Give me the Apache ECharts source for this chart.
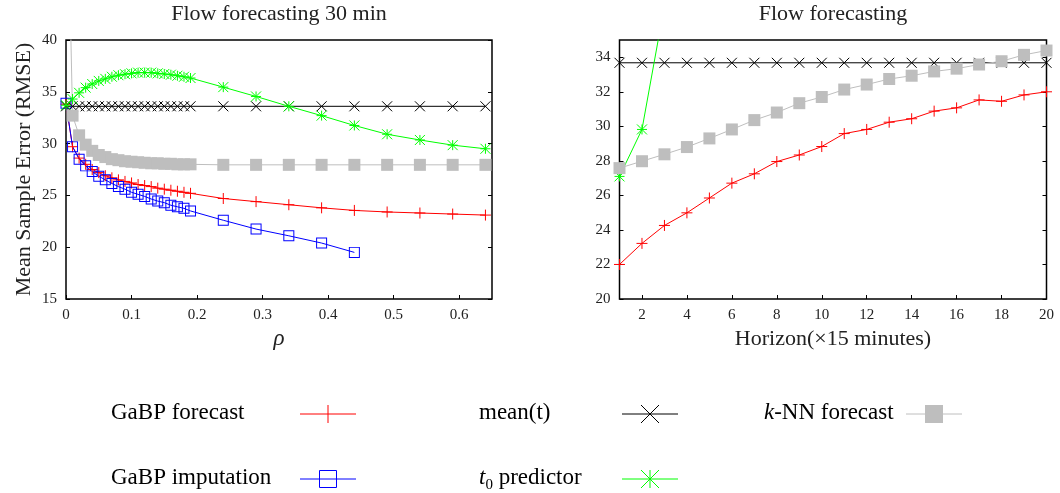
<!DOCTYPE html>
<html>
<head>
<meta charset="utf-8">
<script src="https://cdn.jsdelivr.net/npm/echarts@6.0.0/dist/echarts.min.js"></script>
<style>html,body{margin:0;padding:0;background:#fff}#c{width:1060px;height:493px}</style>
</head>
<body>
<div id="c"></div>
<script>
// ---------- data: left panel (x = rho) ----------
const rho = [0, 0.01, 0.02, 0.03, 0.04, 0.05, 0.06, 0.07, 0.08, 0.09, 0.10, 0.11, 0.12, 0.13, 0.14, 0.15, 0.16, 0.17, 0.18, 0.19,
             0.24, 0.29, 0.34, 0.39, 0.44, 0.49, 0.54, 0.59, 0.64];
const gabpForecastRho = [33.8, 29.7, 28.6, 28.0, 27.5, 27.2, 26.9, 26.7, 26.5, 26.35, 26.2, 26.05, 25.95, 25.85, 25.7, 25.6, 25.5, 25.4, 25.3, 25.2,
                         24.7, 24.4, 24.1, 23.8, 23.55, 23.4, 23.3, 23.2, 23.1];
const gabpImputationRho = [33.9, 29.7, 28.5, 27.85, 27.3, 26.85, 26.5, 26.15, 25.85, 25.6, 25.3, 25.1, 24.9, 24.65, 24.45, 24.3, 24.05, 23.9, 23.75, 23.5,
                           22.6, 21.75, 21.1, 20.4, 19.5];
const meanRho = [33.6, 33.6, 33.6, 33.6, 33.6, 33.6, 33.6, 33.6, 33.6, 33.6, 33.6, 33.6, 33.6, 33.6, 33.6, 33.6, 33.6, 33.6, 33.6, 33.6,
                 33.6, 33.6, 33.6, 33.6, 33.6, 33.6, 33.6, 33.6, 33.6];
const t0Rho = [33.7, 34.3, 34.9, 35.4, 35.75, 36.05, 36.25, 36.45, 36.6, 36.7, 36.78, 36.85, 36.85, 36.85, 36.78, 36.72, 36.65, 36.55, 36.45, 36.33,
               35.45, 34.55, 33.6, 32.7, 31.75, 30.9, 30.35, 29.85, 29.5];
const knnRho = [62, 32.7, 30.8, 29.9, 29.3, 28.9, 28.7, 28.5, 28.4, 28.3, 28.25, 28.2, 28.15, 28.1, 28.1, 28.05, 28.05, 28.0, 28.0, 28.0,
                27.95, 27.95, 27.95, 27.95, 27.95, 27.95, 27.95, 27.95, 27.95];
const rhoTicks = [0, 0.1, 0.2, 0.3, 0.4, 0.5, 0.6];
const rmseTicks = [15, 20, 25, 30, 35, 40];

// ---------- data: right panel (x = horizon) ----------
const horizon = [1, 2, 3, 4, 5, 6, 7, 8, 9, 10, 11, 12, 13, 14, 15, 16, 17, 18, 19, 20];
const gabpForecastH = [22.0, 23.22, 24.26, 24.99, 25.85, 26.71, 27.25, 27.96, 28.34, 28.83, 29.58, 29.82, 30.24, 30.44, 30.88, 31.07, 31.53, 31.45, 31.82, 32.0];
const meanH = [33.68, 33.68, 33.68, 33.68, 33.68, 33.68, 33.68, 33.68, 33.68, 33.68, 33.68, 33.68, 33.68, 33.68, 33.68, 33.68, 33.68, 33.68, 33.68, 33.68];
const t0H = [27.1, 29.82, 37.0];
const knnH = [27.58, 27.98, 28.38, 28.8, 29.3, 29.82, 30.36, 30.8, 31.34, 31.7, 32.13, 32.42, 32.74, 32.93, 33.18, 33.34, 33.58, 33.77, 34.14, 34.39];
const horizonTicks = [2, 4, 6, 8, 10, 12, 14, 16, 18, 20];
const flowTicks = [20, 22, 24, 26, 28, 30, 32, 34];

// ---------- legend ----------
const legendNames = ['GaBP forecast', 'mean(t)', 'k-NN forecast', 'GaBP imputation', 't0 predictor'];

// ---------- styles ----------
const FONT = 'Liberation Serif';
const TXT = '#222';
const C = { red: '#ff0000', blue: '#0000ff', black: '#000000', green: '#00ff00', gray: '#bebebe' };
const SYM = {
  plus: 'path://M0,5L10,5M5,0L5,10',
  cross: 'path://M0,0L10,10M10,0L0,10',
  star: 'path://M0,5L10,5M5,0L5,10M0,0L10,10M10,0L0,10',
  box: 'path://M0,0L10,0L10,10L0,10ZM0.9,0.9L0.9,9.1L9.1,9.1L9.1,0.9Z'
};

const pairs = (xs, ys) => ys.map((y, i) => [xs[i], y]);

function strokeSeries(name, color, sym, size, data, xi, yi) {
  return {
    name, type: 'line', xAxisIndex: xi, yAxisIndex: yi, data,
    symbol: sym, symbolSize: size, showSymbol: true,
    lineStyle: { color, width: 1 },
    itemStyle: { color, borderColor: color, borderWidth: 1 },
    emphasis: { disabled: true }, animation: false, clip: true, z: 3
  };
}
function fillSeries(name, color, sym, size, data, xi, yi) {
  return {
    name, type: 'line', xAxisIndex: xi, yAxisIndex: yi, data,
    symbol: sym, symbolSize: size, showSymbol: true,
    lineStyle: { color, width: 1 },
    itemStyle: { color, borderWidth: 0 },
    emphasis: { disabled: true }, animation: false, clip: true, z: 3
  };
}

const tickLabel = { fontFamily: FONT, fontSize: 15, color: TXT, margin: 9 };
const nameStyle = { fontFamily: FONT, fontSize: 22, color: TXT };

function fmt(v) { return v === 0 ? '0' : String(+v.toFixed(2)); }

// ---------- legend graphics ----------
const legendSlots = [
  { tx: 111, sx: 300, y: 413 }, { tx: 479, sx: 622, y: 413 }, { tx: 764, sx: 906, y: 413 },
  { tx: 111, sx: 300, y: 478 }, { tx: 479, sx: 622, y: 478 }
];
const legendStyle = [
  { color: C.red, mark: 'plus' }, { color: C.black, mark: 'cross' }, { color: C.gray, mark: 'fill' },
  { color: C.blue, mark: 'box' }, { color: C.green, mark: 'star' }
];
const richText = [
  '{n|GaBP forecast}', '{n|mean(t)}', '{i|k}{n|-NN forecast}', '{n|GaBP imputation}', '{i|t}{s|0}{n| predictor}'
];
function ln(x1, y1, x2, y2, color) {
  return { type: 'line', silent: true, shape: { x1, y1, x2, y2 }, style: { stroke: color, lineWidth: 1 } };
}
const graphics = [];
legendNames.forEach((nm, k) => {
  const p = legendSlots[k], st = legendStyle[k];
  graphics.push({
    type: 'text', silent: true, x: p.tx, y: p.y,
    style: {
      text: richText[k], verticalAlign: 'middle', align: 'left',
      rich: {
        n: { fontFamily: FONT, fontSize: 23, color: TXT, lineHeight: 30 },
        i: { fontFamily: FONT, fontSize: 23, fontStyle: 'italic', color: TXT, lineHeight: 30 },
        s: { fontFamily: FONT, fontSize: 15, color: TXT, lineHeight: 14, verticalAlign: 'bottom' }
      }
    }
  });
  const w = 56, cx = p.sx + w / 2, cy = p.y + 1, h = 9;
  graphics.push(ln(p.sx, cy, p.sx + w, cy, st.color));
  if (st.mark === 'plus' || st.mark === 'star') {
    graphics.push(ln(cx, cy - h, cx, cy + h, st.color));
  }
  if (st.mark === 'cross' || st.mark === 'star') {
    graphics.push(ln(cx - h, cy - h, cx + h, cy + h, st.color));
    graphics.push(ln(cx - h, cy + h, cx + h, cy - h, st.color));
  }
  if (st.mark === 'box') {
    graphics.push({ type: 'rect', silent: true, shape: { x: cx - 8.5, y: cy - 8.5, width: 17, height: 17 }, style: { fill: 'none', stroke: st.color, lineWidth: 1 } });
  }
  if (st.mark === 'fill') {
    graphics.push({ type: 'rect', silent: true, shape: { x: cx - 9, y: cy - 9, width: 18, height: 18 }, style: { fill: st.color } });
  }
});

const chart = echarts.init(document.getElementById('c'), null, { renderer: 'canvas' });
const option = {
  backgroundColor: '#fff',
  animation: false,
  title: [
    { text: 'Flow forecasting 30 min', left: 279, top: 3, textAlign: 'center', padding: 0,
      textStyle: { fontFamily: FONT, fontSize: 22, fontWeight: 'normal', color: TXT } },
    { text: 'Flow forecasting', left: 833, top: 3, textAlign: 'center', padding: 0,
      textStyle: { fontFamily: FONT, fontSize: 22, fontWeight: 'normal', color: TXT } }
  ],
  grid: [
    { left: 66, top: 40, width: 426, height: 259, show: true, borderColor: '#000', borderWidth: 1.5, backgroundColor: 'transparent' },
    { left: 619.5, top: 40, width: 427, height: 259, show: true, borderColor: '#000', borderWidth: 1.5, backgroundColor: 'transparent' }
  ],
  xAxis: [
    { type: 'value', gridIndex: 0, min: 0, max: 0.65,
      name: 'ρ', nameLocation: 'middle', nameGap: 21,
      nameTextStyle: Object.assign({}, nameStyle, { fontStyle: 'italic', fontSize: 23 }),
      axisLine: { show: false }, splitLine: { show: false },
      axisTick: { show: true, inside: true, length: 4, customValues: rhoTicks, lineStyle: { color: '#000' } },
      axisLabel: Object.assign({ customValues: rhoTicks, formatter: fmt }, tickLabel) },
    { type: 'value', gridIndex: 1, min: 1, max: 20,
      name: 'Horizon(×15 minutes)', nameLocation: 'middle', nameGap: 24, nameTextStyle: nameStyle,
      axisLine: { show: false }, splitLine: { show: false },
      axisTick: { show: true, inside: true, length: 4, customValues: horizonTicks, lineStyle: { color: '#000' } },
      axisLabel: Object.assign({ customValues: horizonTicks }, tickLabel) }
  ],
  yAxis: [
    { type: 'value', gridIndex: 0, min: 15, max: 40, interval: 5,
      name: 'Mean Sample Error (RMSE)', nameLocation: 'middle', nameGap: 31, nameTextStyle: nameStyle,
      axisLine: { show: false }, splitLine: { show: false },
      axisTick: { show: true, inside: true, length: 4, customValues: rmseTicks, lineStyle: { color: '#000' } },
      axisLabel: Object.assign({ customValues: rmseTicks }, tickLabel) },
    { type: 'value', gridIndex: 0, position: 'right', min: 15, max: 40, interval: 5,
      axisLine: { show: false }, splitLine: { show: false }, axisLabel: { show: false },
      axisTick: { show: true, inside: true, length: 4, customValues: rmseTicks, lineStyle: { color: '#000' } } },
    { type: 'value', gridIndex: 1, min: 20, max: 35,
      axisLine: { show: false }, splitLine: { show: false },
      axisTick: { show: true, inside: true, length: 4, customValues: flowTicks, lineStyle: { color: '#000' } },
      axisLabel: Object.assign({ customValues: flowTicks }, tickLabel) },
    { type: 'value', gridIndex: 1, position: 'right', min: 20, max: 35,
      axisLine: { show: false }, splitLine: { show: false }, axisLabel: { show: false },
      axisTick: { show: true, inside: true, length: 4, customValues: flowTicks, lineStyle: { color: '#000' } } }
  ],
  series: [
    strokeSeries('GaBP forecast', C.red, SYM.plus, 11, pairs(rho, gabpForecastRho), 0, 0),
    fillSeries('GaBP imputation', C.blue, SYM.box, 11, pairs(rho, gabpImputationRho), 0, 0),
    strokeSeries('mean(t)', C.black, SYM.cross, 10, pairs(rho, meanRho), 0, 0),
    strokeSeries('t0 predictor', C.green, SYM.star, 10, pairs(rho, t0Rho), 0, 0),
    fillSeries('k-NN forecast', C.gray, 'rect', 12, pairs(rho, knnRho), 0, 0),

    strokeSeries('GaBP forecast', C.red, SYM.plus, 11, pairs(horizon, gabpForecastH), 1, 2),
    strokeSeries('mean(t)', C.black, SYM.cross, 10, pairs(horizon, meanH), 1, 2),
    strokeSeries('t0 predictor', C.green, SYM.star, 10, pairs(horizon, t0H), 1, 2),
    fillSeries('k-NN forecast', C.gray, 'rect', 12, pairs(horizon, knnH), 1, 2)
  ],
  graphic: graphics
};
chart.setOption(option);
</script>
</body>
</html>
